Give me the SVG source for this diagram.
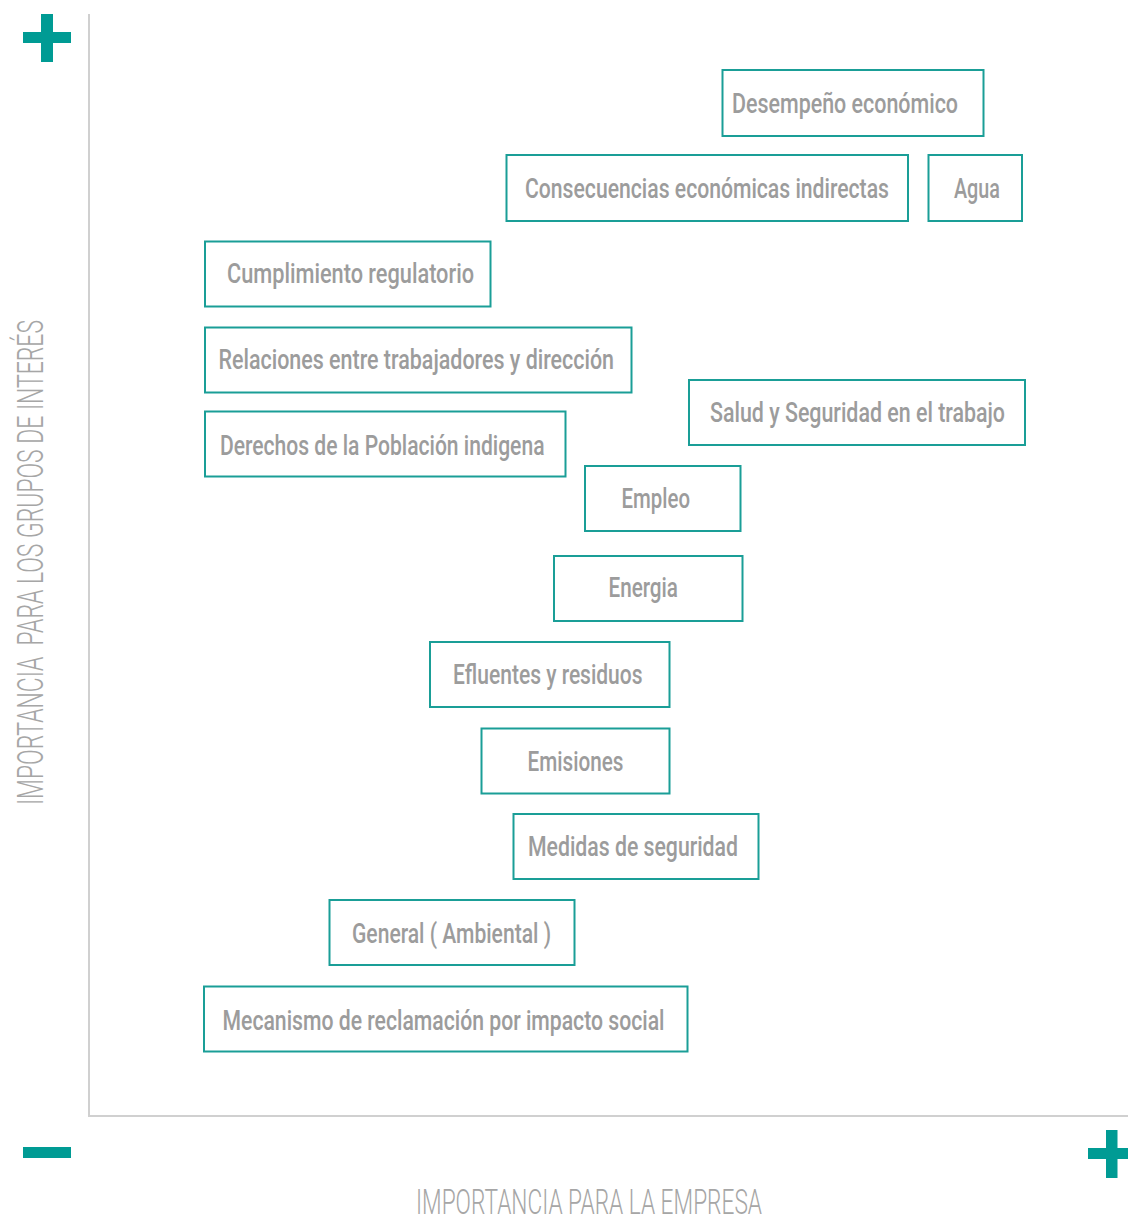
<svg xmlns="http://www.w3.org/2000/svg" width="1128" height="1219" viewBox="0 0 1128 1219">
<style>
.box{fill:#ffffff;stroke:#1a9e97;stroke-width:2}
.lbl{font-family:Roboto,"Liberation Sans",sans-serif;font-weight:500;font-size:28px;fill:#9c9c9c}
.axis{stroke:#d0d0d0;stroke-width:2;fill:none}
.sign{fill:#009b94}
.ax{font-family:Roboto,"Liberation Sans",sans-serif;font-weight:300;font-size:36px;fill:#a6a6a6}
</style>
<rect x="0" y="0" width="1128" height="1219" fill="#ffffff"/>
<g id="axes">
<path class="axis" d="M89 14 V1116 H1128"/>
</g>
<g id="signs">
<rect class="sign" x="23" y="32" width="48" height="11"/>
<rect class="sign" x="41" y="14" width="12" height="48"/>
<rect class="sign" x="23" y="1147" width="48" height="11"/>
<rect class="sign" x="1088" y="1148" width="48" height="11"/>
<rect class="sign" x="1106" y="1130" width="11.5" height="48"/>
</g>
<g id="axis-labels">
<text class="ax" transform="translate(43,805) rotate(-90)" x="0" y="0" textLength="485" lengthAdjust="spacingAndGlyphs" xml:space="preserve">IMPORTANCIA  PARA LOS GRUPOS DE INTERÉS</text>
<text class="ax" x="416" y="1214" textLength="346" lengthAdjust="spacingAndGlyphs" style="font-size:35px">IMPORTANCIA PARA LA EMPRESA</text>
</g>
<g id="connectors"></g>
<g id="n-desempeno">
<rect class="box" x="722.5" y="70" width="261" height="66"/>
<text class="lbl" x="732" y="113" textLength="226" lengthAdjust="spacingAndGlyphs">Desempeño económico</text>
</g>
<g id="n-consecuencias">
<rect class="box" x="506.5" y="155" width="401.5" height="66"/>
<text class="lbl" transform="translate(525,198) scale(0.72,1)" x="0" y="0" textLength="505.5" lengthAdjust="spacingAndGlyphs">Consecuencias económicas indirectas</text>
</g>
<g id="n-agua">
<rect class="box" x="928.5" y="155" width="93.5" height="66"/>
<text class="lbl" x="954" y="198" textLength="46" lengthAdjust="spacingAndGlyphs">Agua</text>
</g>
<g id="n-cumplimiento">
<rect class="box" x="205" y="241.5" width="285.5" height="65"/>
<text class="lbl" x="227" y="283" textLength="247" lengthAdjust="spacingAndGlyphs">Cumplimiento regulatorio</text>
</g>
<g id="n-relaciones">
<rect class="box" x="205" y="327.5" width="426.5" height="65"/>
<text class="lbl" x="218.5" y="368.5" textLength="395.5" lengthAdjust="spacingAndGlyphs">Relaciones entre trabajadores y dirección</text>
</g>
<g id="n-derechos">
<rect class="box" x="205" y="411.5" width="360.5" height="65"/>
<text class="lbl" x="220" y="455" textLength="324.5" lengthAdjust="spacingAndGlyphs">Derechos de la Población indigena</text>
</g>
<g id="n-salud">
<rect class="box" x="689" y="380" width="336" height="65"/>
<text class="lbl" x="710" y="421.5" textLength="295" lengthAdjust="spacingAndGlyphs">Salud y Seguridad en el trabajo</text>
</g>
<g id="n-empleo">
<rect class="box" x="585" y="466" width="155.5" height="65"/>
<text class="lbl" x="621.5" y="508" textLength="68.5" lengthAdjust="spacingAndGlyphs">Empleo</text>
</g>
<g id="n-energia">
<rect class="box" x="554" y="556" width="188.5" height="65"/>
<text class="lbl" x="608.5" y="597" textLength="69.5" lengthAdjust="spacingAndGlyphs">Energia</text>
</g>
<g id="n-efluentes">
<rect class="box" x="430" y="642" width="239.5" height="65"/>
<text class="lbl" x="453" y="684" textLength="189.5" lengthAdjust="spacingAndGlyphs">Efluentes y residuos</text>
</g>
<g id="n-emisiones">
<rect class="box" x="481.5" y="728.5" width="188" height="65"/>
<text class="lbl" x="527.5" y="771" textLength="96" lengthAdjust="spacingAndGlyphs">Emisiones</text>
</g>
<g id="n-medidas">
<rect class="box" x="513.5" y="814" width="245" height="65"/>
<text class="lbl" x="528" y="856" textLength="210" lengthAdjust="spacingAndGlyphs">Medidas de seguridad</text>
</g>
<g id="n-general">
<rect class="box" x="329.5" y="900" width="245" height="65"/>
<text class="lbl" x="352" y="943" textLength="199" lengthAdjust="spacingAndGlyphs" xml:space="preserve">General ( Ambiental )</text>
</g>
<g id="n-mecanismo">
<rect class="box" x="204" y="986.5" width="483.5" height="65"/>
<text class="lbl" x="222.5" y="1030" textLength="442" lengthAdjust="spacingAndGlyphs">Mecanismo de reclamación por impacto social</text>
</g>
</svg>
